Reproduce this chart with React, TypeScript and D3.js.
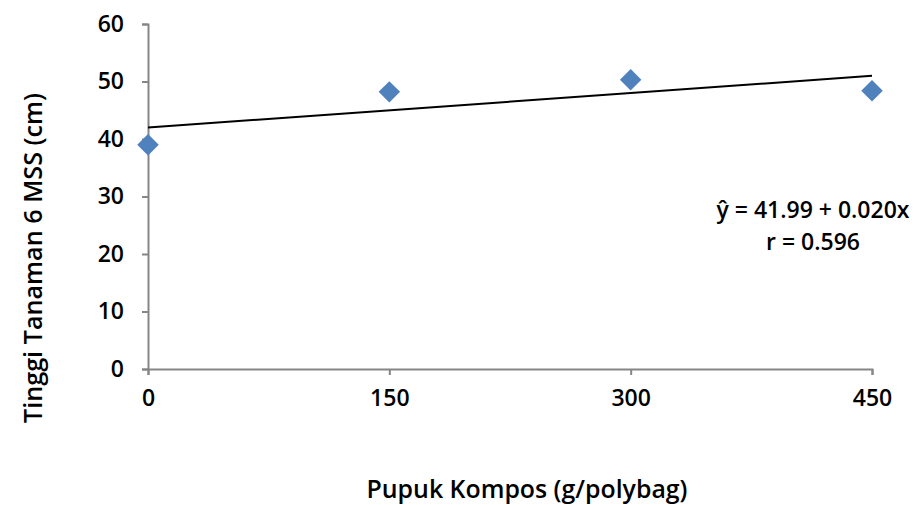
import React, { useEffect, useRef } from "react";
import * as d3 from "d3";

const dosis = [0, 150, 300, 450];
const tinggi = [39.0, 48.2, 50.3, 48.4];
const yTicks = [0, 10, 20, 30, 40, 50, 60];
const intercept = 41.99;
const slope = 0.02;
const eqLines = ["ŷ = 41.99 + 0.020x", "r = 0.596"];

const FONT = "'Open Sans', 'Noto Sans', sans-serif";

const App = () => {
  const svgRef = useRef<SVGSVGElement>(null);
  useEffect(() => {
    const svg = d3.select(svgRef.current);
    svg.selectAll("*").remove();
    const width = 915;
    const height = 505;
    const margin = { top: 24, right: 43, bottom: 136, left: 148 };
    const x = d3.scaleLinear().domain([0, 450]).range([margin.left, width - margin.right]);
    const y = d3.scaleLinear().domain([0, 60]).range([height - margin.bottom, margin.top]);
    const grey = "#868686";

    // y axis
    const ya = svg.append("g").attr("transform", `translate(${margin.left},0)`)
      .call(d3.axisLeft(y).tickValues(yTicks).tickSize(6).tickPadding(18).tickFormat(d3.format("d")));
    ya.select(".domain").attr("stroke", grey).attr("stroke-width", 2);
    ya.selectAll(".tick line").attr("stroke", grey).attr("stroke-width", 2);
    ya.selectAll(".tick text").attr("font-family", FONT).attr("font-size", 23).attr("font-weight", 600).attr("fill", "#000");

    // x axis
    const xa = svg.append("g").attr("transform", `translate(0,${height - margin.bottom})`)
      .call(d3.axisBottom(x).tickValues(dosis).tickSize(6).tickSizeOuter(6).tickPadding(15).tickFormat(d3.format("d")));
    xa.select(".domain").attr("stroke", grey).attr("stroke-width", 2);
    xa.selectAll(".tick line").attr("stroke", grey).attr("stroke-width", 2);
    xa.selectAll(".tick text").attr("font-family", FONT).attr("font-size", 23).attr("font-weight", 600).attr("fill", "#000");

    // trend line
    svg.append("line")
      .attr("x1", x(0)).attr("y1", y(intercept))
      .attr("x2", x(450)).attr("y2", y(intercept + slope * 450))
      .attr("stroke", "#000").attr("stroke-width", 2);

    // points
    const diamond = d3.symbol().type(d3.symbolSquare).size(230);
    svg.append("g").selectAll("path")
      .data(dosis)
      .join("path")
      .attr("d", diamond())
      .attr("transform", (d, i) => `translate(${x(d)},${y(tinggi[i])}) rotate(45)`)
      .attr("fill", "#4F81BD");

    // equation
    const eq = svg.append("text")
      .attr("font-family", FONT).attr("font-size", 23).attr("font-weight", 600)
      .attr("text-anchor", "middle");
    eqLines.forEach((t, i) => {
      eq.append("tspan").attr("x", 813).attr("y", 218 + i * 32).text(t);
    });

    // axis titles
    svg.append("text")
      .attr("x", 527).attr("y", 498)
      .attr("text-anchor", "middle")
      .attr("font-family", FONT).attr("font-size", 26).attr("font-weight", 600)
      .attr("textLength", 321).attr("lengthAdjust", "spacingAndGlyphs")
      .text("Pupuk Kompos (g/polybag)");
    svg.append("text")
      .attr("transform", "rotate(-90)")
      .attr("x", -258).attr("y", 42)
      .attr("text-anchor", "middle")
      .attr("font-family", FONT).attr("font-size", 26).attr("font-weight", 600)
      .attr("textLength", 330).attr("lengthAdjust", "spacingAndGlyphs")
      .text("Tinggi Tanaman 6 MSS (cm)");
  }, []);
  return (
    <svg ref={svgRef} width={915} height={505} style={{ position: "absolute", left: 0, top: 0, background: "#fff" }}></svg>
  );
};

export default App;
